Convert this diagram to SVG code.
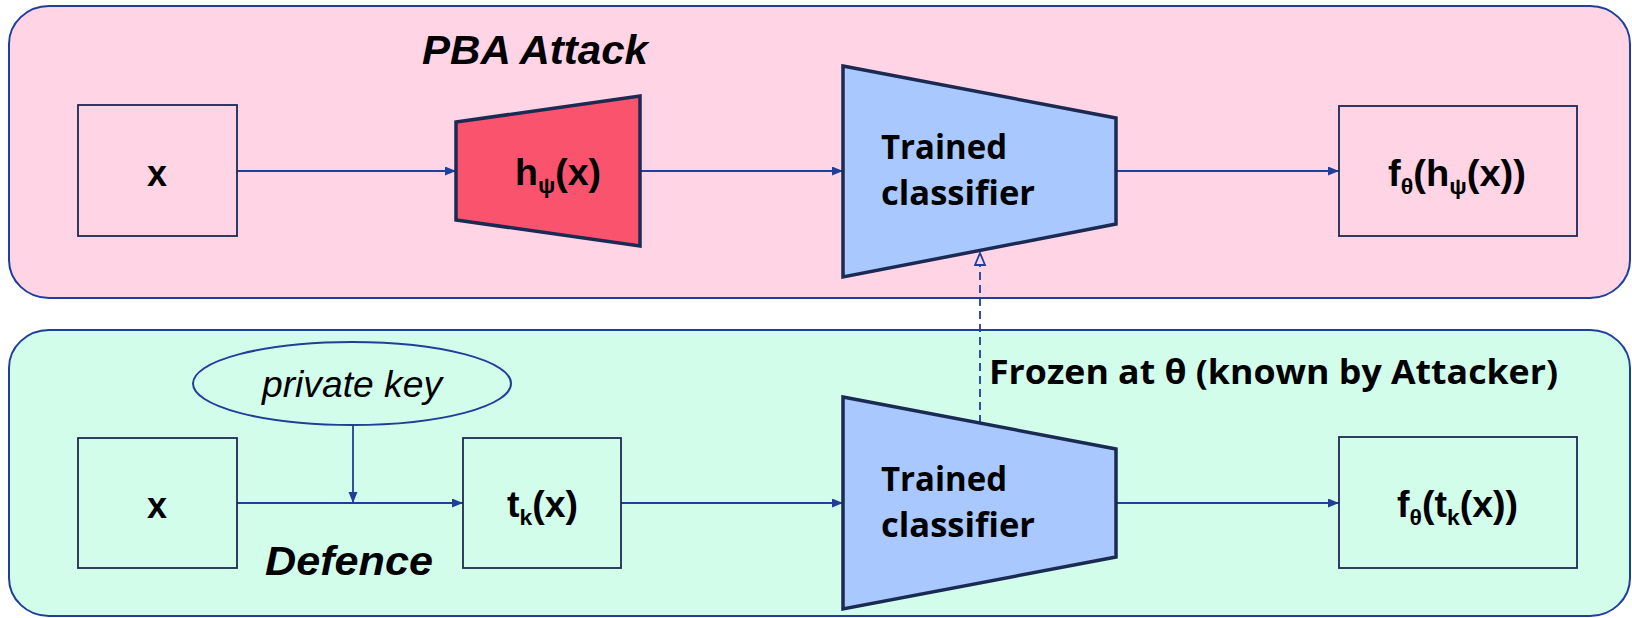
<svg xmlns="http://www.w3.org/2000/svg" width="1632" height="618" viewBox="0 0 1632 618">
<style>
.panel{stroke:#1f3f99;stroke-width:2}
.box{stroke:#1c2b50;stroke-width:1.8}
.trap{stroke:#1b2a52;stroke-width:3.5;stroke-linejoin:miter}
.lbl{font-family:"Liberation Sans",Arial,sans-serif;font-weight:bold;font-size:36px;fill:#000}
.sub{font-size:22px}
.cls{font-family:"Open Sans","Noto Sans",sans-serif;font-weight:700;font-size:34px;fill:#000}
.title{font-family:"Liberation Sans",Arial,sans-serif;font-weight:bold;font-style:italic;font-size:41px;fill:#000}
.key{font-family:"Liberation Sans",Arial,sans-serif;font-style:italic;font-size:37px;fill:#000}
.conn{stroke:#1f3f99;stroke-width:1.8;fill:none}
.dash{stroke-dasharray:8 5}
</style>
<defs>
<marker id="ah" markerUnits="userSpaceOnUse" markerWidth="12" markerHeight="10" refX="11" refY="4.5" orient="auto">
<path d="M0,0 L11,4.5 L0,9 z" fill="#1f3f99"/>
</marker>
<marker id="ao" markerUnits="userSpaceOnUse" markerWidth="16" markerHeight="14" refX="13" refY="6" orient="auto">
<path d="M1,1 L13,6 L1,11 z" fill="#ffd5e5" stroke="#1f3f99" stroke-width="1.8"/>
</marker>
</defs>
<g id="attack-panel">
<rect class="panel" x="9" y="6" width="1621" height="292" rx="40" ry="38" fill="#ffd5e5"/>
<text class="title" x="422" y="64" textLength="226" lengthAdjust="spacingAndGlyphs">PBA Attack</text>
</g>
<g id="defence-panel">
<rect class="panel" x="9" y="330" width="1621" height="286" rx="40" ry="38" fill="#d3fdeb"/>
<text class="title" x="265" y="575" textLength="168" lengthAdjust="spacingAndGlyphs">Defence</text>
</g>
<g id="connectors">
<line class="conn" x1="237" y1="171" x2="456" y2="171" marker-end="url(#ah)"/>
<line class="conn" x1="640" y1="171" x2="843" y2="171" marker-end="url(#ah)"/>
<line class="conn" x1="1116" y1="171" x2="1339" y2="171" marker-end="url(#ah)"/>
<line class="conn" x1="237" y1="503" x2="463" y2="503" marker-end="url(#ah)"/>
<line class="conn" x1="621" y1="503" x2="843" y2="503" marker-end="url(#ah)"/>
<line class="conn" x1="1116" y1="503" x2="1339" y2="503" marker-end="url(#ah)"/>
<line class="conn" x1="353" y1="425" x2="353" y2="503" marker-end="url(#ah)"/>
<line class="conn dash" x1="980" y1="423" x2="980" y2="253" marker-end="url(#ao)"/>
</g>
<g id="x-top">
<rect class="box" x="78" y="105" width="159" height="131" fill="none"/>
<text class="lbl" x="157" y="186" text-anchor="middle">x</text>
</g>
<g id="h-psi">
<polygon class="trap" points="456,122 640,96 640,246 456,220" fill="#f9536e"/>
<text class="lbl" x="515" y="185" textLength="86" lengthAdjust="spacingAndGlyphs">h<tspan class="sub" dy="8">ψ</tspan><tspan dy="-8">(x)</tspan></text>
</g>
<g id="classifier-top">
<polygon class="trap" points="843,66 1116,118 1116,224 843,277" fill="#a8c8fe"/>
<text class="cls" x="881" y="159" textLength="126" lengthAdjust="spacingAndGlyphs">Trained</text>
<text class="cls" x="881" y="205" textLength="154" lengthAdjust="spacingAndGlyphs">classifier</text>
</g>
<g id="output-top">
<rect class="box" x="1339" y="106" width="238" height="130" fill="none"/>
<text class="lbl" x="1388" y="186" textLength="138" lengthAdjust="spacingAndGlyphs">f<tspan class="sub" dy="8">θ</tspan><tspan dy="-8">(h</tspan><tspan class="sub" dy="8">ψ</tspan><tspan dy="-8">(x))</tspan></text>
</g>
<g id="private-key">
<ellipse cx="352" cy="383.5" rx="159" ry="41.5" fill="#d3fdeb" stroke="#1f3f99" stroke-width="2"/>
<text class="key" x="262" y="397" textLength="180" lengthAdjust="spacingAndGlyphs">private key</text>
</g>
<g id="x-bottom">
<rect class="box" x="78" y="438" width="159" height="130" fill="none"/>
<text class="lbl" x="157" y="518" text-anchor="middle">x</text>
</g>
<g id="t-k">
<rect class="box" x="463" y="438" width="158" height="130" fill="none"/>
<text class="lbl" x="507" y="517" textLength="71" lengthAdjust="spacingAndGlyphs">t<tspan class="sub" dy="8">k</tspan><tspan dy="-8">(x)</tspan></text>
</g>
<g id="classifier-bottom">
<polygon class="trap" points="843,397 1116,449 1116,557 843,609" fill="#a8c8fe"/>
<text class="cls" x="881" y="491" textLength="126" lengthAdjust="spacingAndGlyphs">Trained</text>
<text class="cls" x="881" y="537" textLength="154" lengthAdjust="spacingAndGlyphs">classifier</text>
</g>
<g id="frozen-label">
<text class="cls" x="989" y="384" font-size="33" textLength="569" lengthAdjust="spacingAndGlyphs">Frozen at θ (known by Attacker)</text>
</g>
<g id="output-bottom">
<rect class="box" x="1339" y="437" width="238" height="131" fill="none"/>
<text class="lbl" x="1397" y="517" textLength="121" lengthAdjust="spacingAndGlyphs">f<tspan class="sub" dy="8">θ</tspan><tspan dy="-8">(t</tspan><tspan class="sub" dy="8">k</tspan><tspan dy="-8">(x))</tspan></text>
</g>
</svg>
